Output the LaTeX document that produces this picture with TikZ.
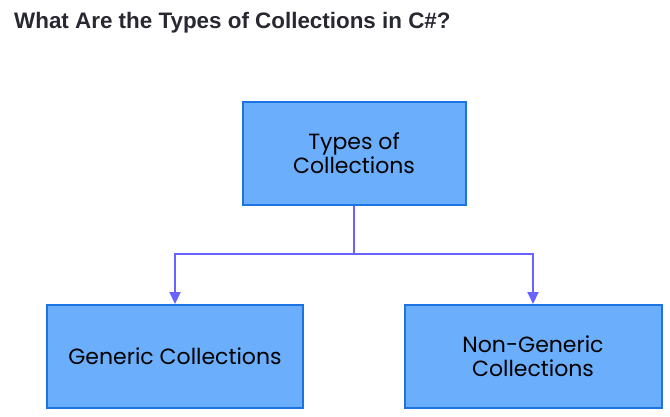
\documentclass[tikz,border=0pt]{standalone}
\usepackage{fontspec}
\usepackage{xcolor}
\usepackage{tikz}
\usetikzlibrary{arrows.meta, positioning}

\setmainfont{Liberation Sans}
\newfontfamily\boxfont{Poppins}

\definecolor{boxfill}{RGB}{106,174,252}
\definecolor{boxline}{RGB}{28,116,228}
\definecolor{linkcol}{RGB}{104,98,255}
\definecolor{titlecol}{RGB}{40,40,50}

\begin{document}
\begin{tikzpicture}[
        x=1pt, y=-1pt, % pixel grid, y going down
        typebox/.style={draw=boxline, line width=2pt, fill=boxfill,
            align=center, font=\boxfont\fontsize{22}{24}\selectfont,
            inner sep=0pt},
        link/.style={-{Triangle[length=12pt, width=11pt]}, linkcol, line width=2pt}
    ]
        \useasboundingbox (0,0) rectangle (670,416);

        % Title
        \node[anchor=base west, inner sep=0pt, text=titlecol,
              font=\bfseries\fontsize{22.4}{26}\selectfont] (title) at (14,28)
            {What Are the Types of Collections in C\#?};

        % Boxes
        \node[typebox, minimum width=223pt, minimum height=103pt] (types) at (354,153)
            {Types of\\Collections};
        \node[typebox, minimum width=256pt, minimum height=103pt] (generic) at (175,356.5)
            {Generic Collections};
        \node[typebox, minimum width=257pt, minimum height=103pt] (nongeneric) at (533,356.5)
            {Non-Generic\\Collections};

        % Connectors
        \coordinate (split) at (354,254);
        \draw[linkcol, line width=2pt] (types.south) -- (split);
        \draw[link] (split) -| (generic.north);
        \draw[link] (split) -| (nongeneric.north);

    \end{tikzpicture}
\end{document}
